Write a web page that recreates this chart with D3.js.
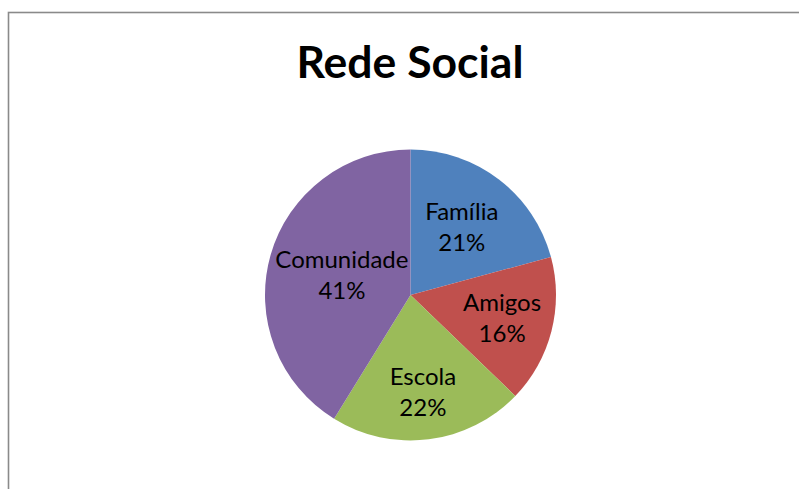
<!DOCTYPE html>
<html>
<head>
<meta charset="utf-8">
<script src="https://cdn.jsdelivr.net/npm/d3@7"></script>
<style>
  html, body { margin: 0; padding: 0; background: #fff; }
  svg { display: block; }
</style>
</head>
<body>
<svg id="chart" width="799" height="489"></svg>
<script>
const title = "Rede Social";
const categories = ["Família", "Amigos", "Escola", "Comunidade"];
const values = [20.8, 16.4, 21.6, 41.2];
const colors = ["#4F81BD", "#C0504D", "#9BBB59", "#8064A2"];
// label placement (fraction of radius along the slice bisector), as Excel's best-fit
const labelRadius = [0.58, 0.65, 0.68, 0.49];

const W = 799, H = 489;
const svg = d3.select("#chart");
const font = "Lato, 'Open Sans', sans-serif";

// chart border (extends past the right/bottom edges in the reference)
svg.append("rect")
  .attr("x", 8.5).attr("y", 12.5)
  .attr("width", 1000).attr("height", 1000)
  .attr("fill", "#fff")
  .attr("stroke", "#8a8a8a")
  .attr("stroke-width", 1.6);

svg.append("text")
  .attr("x", 410).attr("y", 78)
  .attr("text-anchor", "middle")
  .attr("font-family", font)
  .attr("font-weight", "bold")
  .attr("font-size", 44.5)
  .attr("fill", "#000")
  .text(title);

const cx = 410.5, cy = 295, R = 145.5;
const total = d3.sum(values);
const data = categories.map((c, i) => ({ cat: c, value: values[i], color: colors[i], lr: labelRadius[i] }));

const pie = d3.pie().value(d => d.value).sort(null);
const arc = d3.arc().innerRadius(0).outerRadius(R);
const arcs = pie(data);

const g = svg.append("g").attr("transform", `translate(${cx},${cy})`);
g.selectAll("path").data(arcs).join("path")
  .attr("d", arc)
  .attr("fill", d => d.data.color);

const fmt = v => Math.round(v / total * 100) + "%";
const lines = 31;
const labels = g.selectAll("text.lbl").data(arcs).join("text")
  .attr("class", "lbl")
  .attr("text-anchor", "middle")
  .attr("font-family", font)
  .attr("font-size", 24)
  .attr("fill", "#000")
  .attr("transform", d => {
    const a = (d.startAngle + d.endAngle) / 2;
    const r = R * d.data.lr;
    return `translate(${r * Math.sin(a)},${-r * Math.cos(a)})`;
  });
labels.append("tspan").attr("x", 0).attr("y", -8).text(d => d.data.cat);
labels.append("tspan").attr("x", 0).attr("y", -8 + lines).text(d => fmt(d.data.value));
</script>
</body>
</html>
